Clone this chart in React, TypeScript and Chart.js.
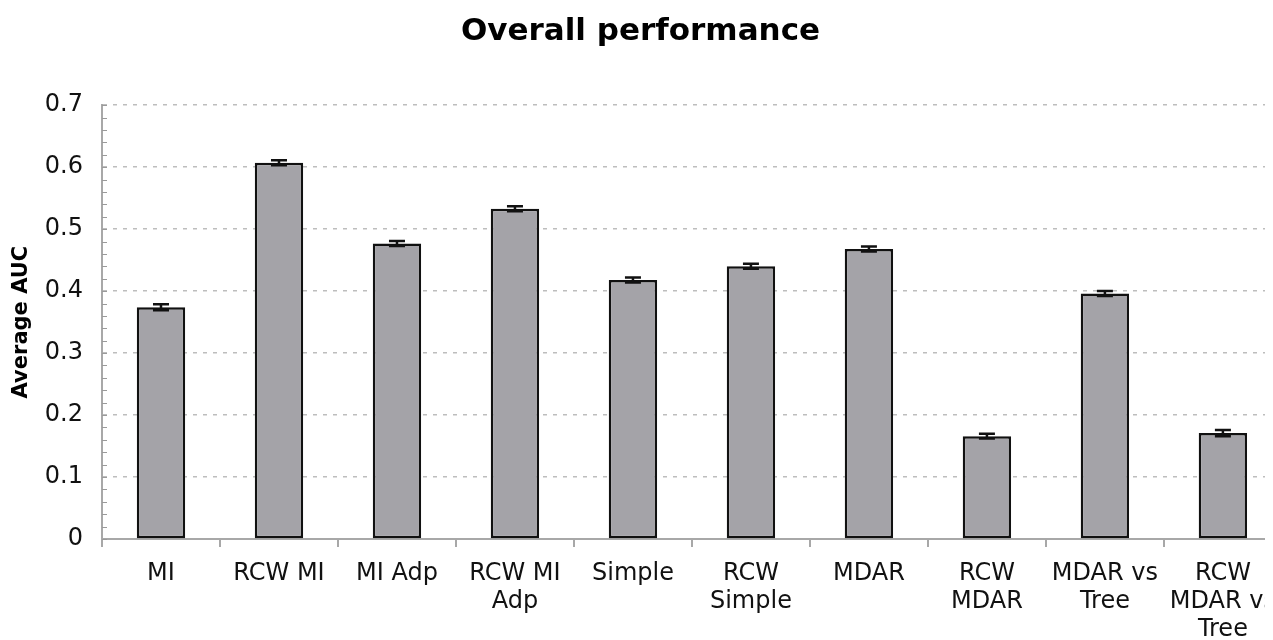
import { useEffect, useRef } from 'react';
import { Chart, registerables } from 'chart.js';

Chart.register(...registerables);

// Method names (multi-line category labels)
const categories: string[][] = [
  ['MI'],
  ['RCW MI'],
  ['MI Adp'],
  ['RCW MI', 'Adp'],
  ['Simple'],
  ['RCW', 'Simple'],
  ['MDAR'],
  ['RCW', 'MDAR'],
  ['MDAR vs', 'Tree'],
  ['RCW', 'MDAR vs', 'Tree'],
];

// Average AUC per method
const auc: number[] = [0.374, 0.607, 0.477, 0.533, 0.418, 0.44, 0.468, 0.166, 0.396, 0.171];

// Half-length of the error bar for each method
const aucError: number[] = [0.005, 0.004, 0.004, 0.004, 0.004, 0.004, 0.004, 0.004, 0.004, 0.005];

// Y-axis tick labels
const yTickValues: number[] = [0, 0.1, 0.2, 0.3, 0.4, 0.5, 0.6, 0.7];
const yMinorStep = 0.02;

const FONT = "'DejaVu Sans', Verdana, sans-serif";
const CANVAS_W = 1281; // plot runs slightly past the visible frame
const VISIBLE_W = 1265;
const CANVAS_H = 632;

const errorBars = {
  id: 'errorBars',
  afterDatasetsDraw(chart: any) {
    const { ctx } = chart;
    const meta = chart.getDatasetMeta(0);
    const yScale = chart.scales.y;
    ctx.save();
    ctx.strokeStyle = '#111';
    ctx.lineWidth = 2.5;
    meta.data.forEach((bar: any, i: number) => {
      const x = bar.x;
      const top = yScale.getPixelForValue(auc[i] + aucError[i]);
      const bottom = yScale.getPixelForValue(auc[i] - aucError[i]);
      ctx.beginPath();
      ctx.moveTo(x, top);
      ctx.lineTo(x, bottom);
      ctx.moveTo(x - 8, top);
      ctx.lineTo(x + 8, top);
      ctx.moveTo(x - 8, bottom);
      ctx.lineTo(x + 8, bottom);
      ctx.stroke();
    });
    ctx.restore();
  },
};

// Small minor tick marks along the inside of the y axis
const minorTicks = {
  id: 'minorTicks',
  afterDraw(chart: any) {
    const { ctx, chartArea } = chart;
    const yScale = chart.scales.y;
    const max = yTickValues[yTickValues.length - 1];
    ctx.save();
    ctx.strokeStyle = '#9a9a9a';
    ctx.lineWidth = 1;
    for (let v = 0; v <= max + 1e-9; v += yMinorStep) {
      const y = Math.round(yScale.getPixelForValue(v)) + 0.5;
      ctx.beginPath();
      ctx.moveTo(chartArea.left, y);
      ctx.lineTo(chartArea.left + 5, y);
      ctx.stroke();
    }
    ctx.restore();
  },
};

// Center the title over the visible frame rather than the full canvas
const titleInFrame = {
  id: 'titleInFrame',
  afterLayout(chart: any) {
    const t = chart.titleBlock;
    if (t) {
      t.right = t.left + VISIBLE_W;
      t.width = VISIBLE_W;
    }
  },
};

export default function App() {
  const canvasRef = useRef<HTMLCanvasElement | null>(null);

  useEffect(() => {
    if (!canvasRef.current) return;
    const chart = new Chart(canvasRef.current, {
      type: 'bar',
      data: {
        labels: categories,
        datasets: [
          {
            data: auc,
            backgroundColor: '#a4a3a8',
            borderColor: '#111',
            borderWidth: 2.5,
            borderSkipped: false,
            categoryPercentage: 1,
            barPercentage: 0.41,
          },
        ],
      },
      options: {
        animation: false,
        responsive: false,
        devicePixelRatio: 1,
        layout: { padding: 0 },
        plugins: {
          legend: { display: false },
          tooltip: { enabled: false },
          title: {
            display: true,
            text: 'Overall performance',
            color: '#000',
            font: { family: FONT, size: 31, weight: 'bold', lineHeight: 1.2 },
            padding: { top: 5, bottom: 55 },
          },
        },
        scales: {
          x: {
            offset: true,
            grid: {
              offset: true,
              drawOnChartArea: false,
              drawTicks: true,
              tickLength: 8,
              color: '#a8a8a8',
              lineWidth: 2,
            },
            border: { display: true, color: '#a8a8a8', width: 2 },
            ticks: {
              color: '#111',
              font: { family: FONT, size: 24, lineHeight: '28px' },
              padding: 13,
              maxRotation: 0,
              autoSkip: false,
            },
            afterFit(scale: any) {
              scale.height = 101;
            },
          },
          y: {
            min: 0,
            max: 0.7,
            afterBuildTicks(scale: any) {
              scale.ticks = yTickValues.map((v) => ({ value: v }));
            },
            grid: {
              color: '#bdbdbd',
              lineWidth: 1.5,
              drawTicks: false,
            },
            border: { display: true, color: '#a8a8a8', width: 2, dash: [4, 6] },
            ticks: {
              color: '#111',
              font: { family: FONT, size: 24 },
              padding: 19,
              callback: (v: any) => (Number(v) === 0 ? '0' : Number(v).toFixed(1)),
            },
            title: {
              display: true,
              text: 'Average AUC',
              color: '#000',
              font: { family: FONT, size: 21, weight: 'bold', lineHeight: 1.2 },
              padding: { top: 1, bottom: 0 },
            },
            afterFit(scale: any) {
              scale.width = 94;
            },
          },
        },
      },
      plugins: [errorBars, minorTicks, titleInFrame],
    });
    return () => chart.destroy();
  }, []);

  return (
    <div style={{ width: VISIBLE_W, height: CANVAS_H, overflow: 'hidden' }}>
      <canvas
        ref={canvasRef}
        width={CANVAS_W}
        height={CANVAS_H}
        style={{ width: CANVAS_W, height: CANVAS_H, display: 'block' }}
      />
    </div>
  );
}
